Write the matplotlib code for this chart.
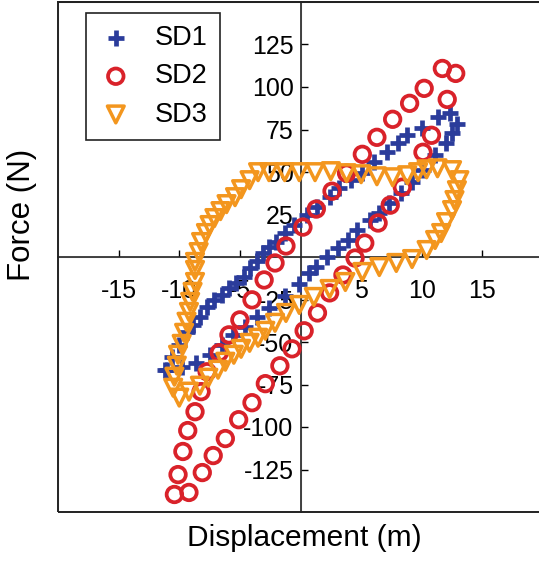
import matplotlib.pyplot as plt
from matplotlib.patches import Rectangle

# SD1 hysteresis loop (blue +)
sd1_x = [-11.2, -10.6, -10.0, -9.4, -8.9, -8.3, -7.7, -7.1, -6.5, -5.9, -5.3, -4.7,
         -4.2, -3.6, -3.1, -2.6, -2.0, -1.3, -0.5, 0.5, 1.4, 2.4, 3.2, 4.2, 5.1, 6.1,
         7.1, 8.0, 8.8, 10.0, 11.3, 12.3, 12.9,
         12.5, 12.0, 11.1, 10.1, 9.2, 8.3, 7.3, 6.5, 5.7, 4.7, 3.9, 3.1, 2.2, 1.3,
         0.7, -0.1, -1.3, -2.6, -3.6, -4.6, -5.6, -6.5, -7.5, -8.6, -9.8, -11.0]
sd1_y = [-66.3, -58.7, -51.6, -44.0, -39.9, -35.2, -29.3, -25.2, -22.3, -18.2, -15.3, -11.7,
         -6.5, -2.3, 2.3, 5.9, 8.8, 14.1, 18.8, 24.6, 29.3, 35.2, 40.5, 45.2, 49.3, 55.8,
         61.6, 66.9, 71.6, 75.7, 82.2, 84.5, 78.1,
         72.8, 66.9, 59.9, 51.1, 44.0, 37.6, 31.7, 25.8, 21.7, 15.8, 10.0, 5.3, 0.0, -5.9,
         -9.4, -15.8, -22.9, -29.9, -35.2, -41.1, -45.8, -51.6, -57.5, -62.2, -64.6, -66.3]

# SD2 hysteresis loop (red o)
sd2_x = [-10.4, -10.1, -9.7, -9.3, -8.7, -8.2, -7.7, -6.7, -5.9, -5.0, -4.0, -3.0,
         -2.1, -1.2, 0.2, 1.3, 2.6, 3.8, 5.1, 6.3, 7.6, 9.0, 10.2, 11.7, 12.8,
         12.1, 10.8, 10.1, 8.4, 7.4, 6.4, 5.3, 4.5, 3.5, 2.4, 1.4, 0.3, -0.7, -1.7,
         -2.9, -4.0, -5.1, -6.2, -7.2, -8.1, -9.2]
sd2_y = [-139.7, -128.0, -114.4, -102.1, -91.0, -79.2, -67.5, -56.3, -45.8, -37.0, -25.2, -13.5,
         -3.5, 6.5, 17.6, 28.2, 38.7, 49.3, 60.4, 70.4, 81.0, 90.4, 99.2, 110.9, 108.0,
         92.7, 71.6, 61.6, 41.1, 30.5, 20.0, 8.2, -0.6, -10.6, -21.1, -32.9, -43.4, -54.0, -64.0,
         -74.5, -85.7, -95.7, -106.8, -116.8, -126.8, -138.5]

# SD3 hysteresis loop (orange v)
sd3_x = [-10.0, -10.5, -10.4, -10.2, -10.1, -9.8, -9.6, -9.4, -9.2, -9.1, -8.9, -8.7,
         -8.7, -8.7, -8.4, -8.2, -7.8, -7.5, -7.1, -6.6, -6.1, -5.4, -4.9, -4.2, -3.5,
         -2.6, -1.3, -0.1, 1.2, 2.5, 3.8, 5.0, 6.3, 7.6, 8.8, 9.7, 10.4, 11.3, 12.5,
         13.1, 12.9, 12.7, 12.5, 12.0, 11.6, 11.1, 10.4,
         9.2, 7.9, 6.5, 5.1, 3.7, 2.4, 1.1, -0.1, -1.2, -2.1, -2.9, -3.5, -4.2, -4.9,
         -5.5, -6.2, -6.8, -7.6, -8.3, -9.2]
sd3_y = [-82.7, -76.9, -70.4, -63.9, -57.5, -51.1, -44.6, -38.1, -32.3, -26.4, -20.5, -14.7,
         -7.6, -2.9, 2.9, 8.8, 14.1, 18.8, 22.9, 27.0, 31.1, 35.2, 39.9, 45.2, 49.9,
         49.9, 49.9, 49.9, 49.9, 50.5, 49.3, 48.7, 47.5, 46.9, 48.1, 49.9, 51.6, 52.2, 51.1,
         45.2, 39.3, 33.5, 27.6, 20.5, 14.1, 10.0, 4.1,
         -1.2, -3.5, -5.9, -8.8, -14.7, -18.8, -23.5, -28.2, -32.9, -38.7, -43.4, -47.5, -50.5, -54.0,
         -57.5, -61.6, -66.3, -71.0, -75.7, -79.2]

x_ticks = [-15, -10, -5, 5, 10, 15]
y_ticks = [-125, -100, -75, -50, -25, 25, 50, 75, 100, 125]

plt.rcParams['font.family'] = ['Liberation Sans', 'DejaVu Sans']
plt.rcParams['axes.unicode_minus'] = False

fig = plt.figure(figsize=(5.39, 5.65), dpi=100)
ax = fig.add_axes([58 / 539, 53 / 565, 485 / 539, 510 / 565])

ax.scatter(sd1_x, sd1_y, marker="+", s=120, linewidths=3.4, color="#2B3C9B",
           label="SD1", zorder=3)
ax.scatter(sd2_x, sd2_y, marker="o", s=125, facecolors="none", edgecolors="#D9222A",
           linewidths=2.7, label="SD2", zorder=3)
ax.scatter(sd3_x, sd3_y, marker="v", s=145, facecolors="none", edgecolors="#F3961E",
           linewidths=2.5, label="SD3", zorder=3)

ax.set_xlim(-20, 20)
ax.set_ylim(-150, 150)
ax.set_xticks(x_ticks)
ax.set_yticks(y_ticks)
ax.set_xticks(range(-20, 21, 5), minor=True)
ax.set_yticks(range(-150, 151, 25), minor=True)
ax.grid(True, which="minor", color="#DCDCDC", linewidth=0.9)
ax.tick_params(which="minor", length=0)
ax.tick_params(which="major", direction="in", length=5, width=1, labelsize=18)
ax.tick_params(axis="x", pad=16)
ax.tick_params(axis="y", pad=5)

ax.spines["left"].set_position("zero")
ax.spines["bottom"].set_position("zero")
for s in ["left", "bottom"]:
    ax.spines[s].set_color("#222222")
    ax.spines[s].set_linewidth(1.2)
for s in ["top", "right"]:
    ax.spines[s].set_linewidth(1.2)
# outer frame
ax.add_patch(Rectangle((0, 0), 1, 1, transform=ax.transAxes, fill=False,
                       edgecolor="#222222", linewidth=1.4, clip_on=False, zorder=4))

leg = fig.legend(loc="upper left", bbox_to_anchor=(86 / 539, 1 - 13 / 565),
                 borderaxespad=0, fontsize=19.5, fancybox=False, framealpha=1,
                 edgecolor="#222222", handletextpad=0.8, labelspacing=0.45,
                 borderpad=0.45, handlelength=1.3)
leg.get_frame().set_linewidth(1.2)

fig.text(22 / 539, 1 - 215 / 565, "Force (N)", rotation=90, ha="center",
         va="center", fontsize=22.5)
fig.text(304 / 539, 1 - 538 / 565, "Displacement (m)", ha="center",
         va="center", fontsize=21.5)

plt.savefig("out.png", dpi=100)
